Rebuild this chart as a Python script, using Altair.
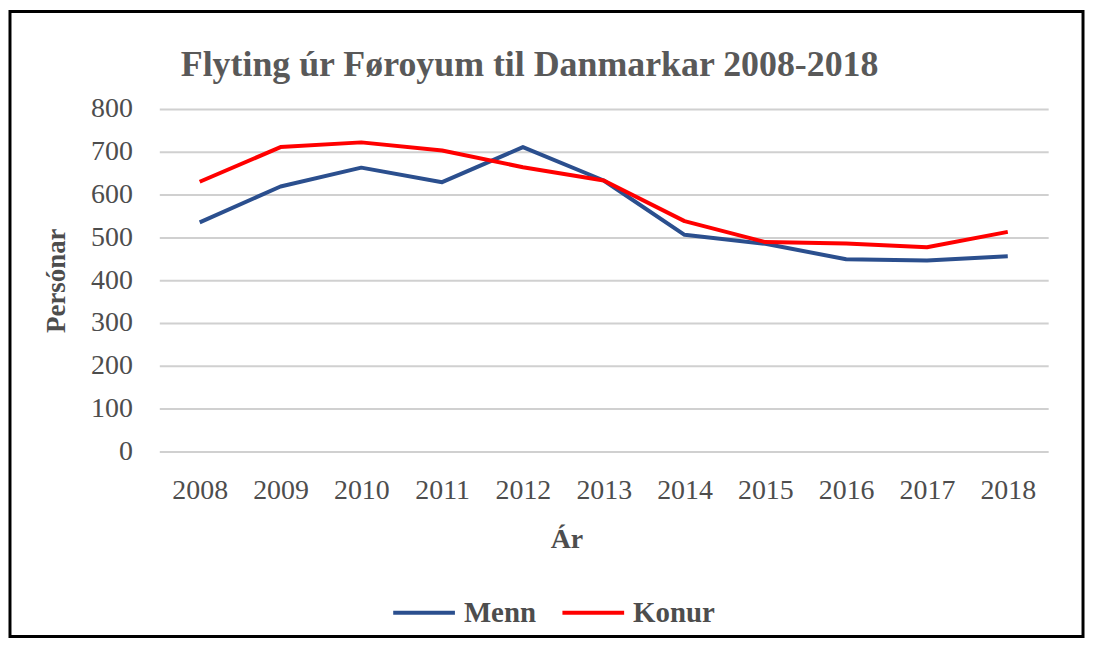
import altair as alt
import pandas as pd

chart_title = "Flyting úr Føroyum til Danmarkar 2008-2018"
years = ["2008", "2009", "2010", "2011", "2012", "2013", "2014", "2015", "2016", "2017", "2018"]
menn = [535, 619, 663, 629, 711, 633, 506, 485, 449, 446, 456]
konur = [630, 711, 722, 703, 664, 633, 538, 489, 486, 477, 513]
series_names = ["Menn", "Konur"]
series_colors = ["#2B4F8E", "#FF0000"]
y_ticks = [0, 100, 200, 300, 400, 500, 600, 700, 800]

rows = []
for name, vals in zip(series_names, [menn, konur]):
    for yr, v in zip(years, vals):
        rows.append({"Ár": yr, "Persónar": v, "Kyn": name})
df = pd.DataFrame(rows)

FONT = "Liberation Serif"
TXT = "#4d4d4d"
W, H = 893, 344

lines = alt.Chart(df).mark_line(strokeWidth=4, strokeJoin="round").encode(
    x=alt.X("Ár:O", sort=years,
            scale=alt.Scale(type="point", padding=0.5),
            axis=alt.Axis(title="Ár", labelAngle=0, labelFontSize=28, labelFont=FONT,
                          labelColor=TXT, labelPadding=25, ticks=False, domain=False,
                          grid=False, titleFont=FONT, titleFontSize=28, titleFontWeight="bold",
                          titleColor=TXT, titleX=409, titleY=97, titleBaseline="alphabetic",
                          titleAlign="center")),
    y=alt.Y("Persónar:Q",
            scale=alt.Scale(domain=[0, 800], nice=False),
            axis=alt.Axis(title="Persónar", values=y_ticks, labelFontSize=28, labelFont=FONT,
                          labelColor=TXT, labelPadding=27, ticks=False, domain=False,
                          grid=True, gridColor="#d0d0d0", gridWidth=2,
                          titleFont=FONT, titleFontSize=27, titleFontWeight="bold",
                          titleColor=TXT, titleX=-103, titleY=172, titleBaseline="middle",
                          titleAlign="center", titleAngle=-90)),
    color=alt.Color("Kyn:N", sort=series_names,
                    scale=alt.Scale(domain=series_names, range=series_colors),
                    legend=alt.Legend(title=None, orient="none", legendX=233, legendY=473,
                                      direction="horizontal", symbolType="stroke",
                                      symbolSize=3844, symbolStrokeWidth=4,
                                      labelFont=FONT, labelFontSize=29, labelFontWeight="bold",
                                      labelColor=TXT, labelOffset=7, columnPadding=18,
                                      padding=0)),
)

title_mark = alt.Chart(pd.DataFrame({"t": [chart_title]})).mark_text(
    font=FONT, fontSize=36, fontWeight="bold", color="#595959",
    align="center", baseline="alphabetic"
).encode(
    text="t:N", x=alt.value(372), y=alt.value(-33)
)

border = alt.Chart(pd.DataFrame({"a": [0]})).mark_rect(
    fill=None, stroke="black", strokeWidth=3
).encode(
    x=alt.value(-150), x2=alt.value(928), y=alt.value(-98), y2=alt.value(530)
)

chart = alt.layer(lines, title_mark, border).properties(
    width=W, height=H,
    autosize=alt.AutoSizeParams(type="none"),
    padding={"left": 152, "top": 100, "right": 38, "bottom": 188},
    background="white",
).configure_view(stroke=None)

chart.save("out.html", embed_options={"renderer": "svg", "actions": False})
